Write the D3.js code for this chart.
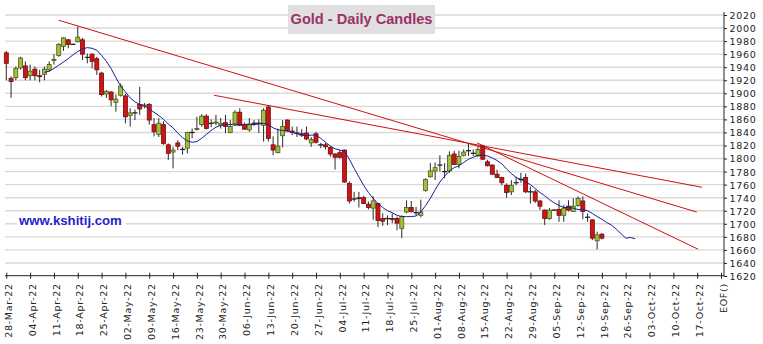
<!DOCTYPE html>
<html><head><meta charset="utf-8">
<script src="https://cdn.jsdelivr.net/npm/d3@7"></script>
<style>
html,body{margin:0;padding:0;background:#fff;}
svg{display:block;}
</style></head>
<body>
<svg id="chart" width="763" height="344"></svg>
<script>
// ---- data ----
const xLabels = ["28-Mar-22","04-Apr-22","11-Apr-22","18-Apr-22","25-Apr-22","02-May-22","09-May-22","16-May-22","23-May-22","30-May-22","06-Jun-22","13-Jun-22","20-Jun-22","27-Jun-22","04-Jul-22","11-Jul-22","18-Jul-22","25-Jul-22","01-Aug-22","08-Aug-22","15-Aug-22","22-Aug-22","29-Aug-22","05-Sep-22","12-Sep-22","19-Sep-22","26-Sep-22","03-Oct-22","10-Oct-22","17-Oct-22","EOF()"];
const yTicks = [1620,1640,1660,1680,1700,1720,1740,1760,1780,1800,1820,1840,1860,1880,1900,1920,1940,1960,1980,2000,2020];

const open  = [1962,1923,1924,1939,1942,1927,1937,1927,1929,1936,1951,1958,1972,1982,1975,1979,1982,1955,1960,1953,1931,1899,1902,1886,1897,1896,1866,1870,1883,1881,1883,1852,1837,1852,1821,1810,1824,1814,1816,1840,1845,1852,1865,1854,1855,1851,1855,1840,1851,1871,1852,1844,1854,1854,1851,1879,1821,1809,1835,1859,1842,1839,1838,1839,1824,1838,1821,1821,1817,1807,1809,1813,1762,1738,1740,1740,1730,1724,1731,1708,1708,1708,1708,1693,1718,1725,1717,1713,1751,1772,1781,1790,1780,1781,1807,1791,1805,1812,1808,1804,1819,1795,1790,1776,1771,1759,1749,1763,1768,1771,1749,1749,1735,1721,1708,1721,1722,1713,1727,1719,1728,1735,1710,1706,1674,1684];
const high  = [1965,1926,1941,1956,1949,1944,1941,1936,1941,1949,1960,1977,1986,1983,1976,2002,1985,1961,1961,1956,1933,1905,1903,1898,1915,1899,1877,1875,1910,1885,1885,1862,1862,1857,1823,1818,1828,1818,1841,1846,1864,1868,1868,1860,1867,1862,1867,1859,1874,1877,1855,1862,1859,1860,1877,1882,1834,1846,1859,1860,1849,1849,1845,1849,1833,1841,1824,1824,1819,1808,1813,1814,1765,1749,1749,1743,1734,1742,1732,1716,1713,1716,1711,1713,1736,1735,1726,1737,1770,1793,1794,1805,1793,1811,1812,1812,1814,1823,1814,1818,1821,1798,1791,1783,1772,1762,1767,1772,1778,1777,1757,1752,1736,1722,1724,1722,1736,1729,1736,1739,1742,1742,1716,1707,1688,1686];
const low   = [1920,1893,1920,1936,1920,1920,1920,1917,1920,1933,1944,1956,1965,1969,1974,1978,1951,1946,1938,1928,1895,1893,1880,1872,1895,1854,1849,1859,1867,1877,1852,1834,1833,1821,1798,1785,1813,1806,1808,1831,1843,1849,1845,1848,1851,1846,1839,1839,1850,1850,1844,1841,1850,1839,1826,1826,1805,1808,1817,1841,1836,1833,1833,1828,1818,1823,1816,1814,1803,1783,1800,1763,1731,1734,1725,1730,1722,1706,1695,1697,1698,1701,1690,1678,1716,1717,1713,1710,1749,1771,1767,1780,1770,1778,1790,1785,1803,1804,1804,1803,1798,1788,1775,1770,1759,1740,1744,1759,1763,1747,1731,1732,1721,1698,1706,1720,1703,1703,1719,1719,1726,1707,1703,1675,1661,1676];
const close = [1946,1918,1938,1954,1924,1934,1927,1926,1937,1944,1952,1975,1985,1975,1975,1986,1960,1955,1949,1936,1898,1903,1890,1891,1911,1864,1870,1870,1876,1882,1859,1841,1854,1823,1808,1813,1819,1814,1840,1840,1846,1865,1846,1854,1856,1854,1849,1849,1871,1851,1845,1853,1854,1854,1874,1831,1813,1819,1849,1843,1841,1839,1836,1830,1829,1825,1821,1818,1807,1802,1802,1764,1735,1738,1739,1731,1725,1735,1705,1704,1708,1707,1701,1711,1725,1719,1717,1718,1768,1781,1786,1790,1780,1805,1791,1803,1810,1812,1808,1814,1799,1789,1776,1771,1763,1748,1759,1763,1768,1749,1749,1735,1727,1708,1721,1721,1713,1724,1721,1727,1739,1719,1710,1678,1683,1678];

// blue moving-average line; first value sits at day index maStart
const maStart = 8;
const maValues = [1932,1934,1938,1943,1948,1953,1959,1964,1968,1970,1969,1966,1958,1949,1938,1924,1911,1902,1893,1887,1883,1881,1876,1871,1866,1860,1853,1847,1839,1832,1827,1825,1826,1831,1837,1843,1848,1851,1852,1852,1853,1852,1852,1852,1852,1853,1854,1852,1847,1844,1843,1842,1840,1838,1836,1835,1836,1836,1831,1825,1819,1815,1813,1811,1799,1785,1772,1759,1748,1739,1731,1725,1720,1717,1713,1711,1711,1711,1712,1718,1728,1739,1752,1764,1773,1781,1786,1789,1794,1799,1802,1805,1805,1804,1801,1797,1792,1784,1777,1771,1768,1764,1760,1754,1748,1743,1737,1732,1728,1725,1725,1724,1722,1722,1720,1716,1711,1707,1702,1698,1692,1685,1678,1679,1677];

// red trend lines: start index, start price, end index, end price
const trendStartIdx   = [11.0, 43.6, 98.8];
const trendStartPrice = [2012, 1897, 1824];
const trendEndIdx     = [144.9, 146.0, 145.2];
const trendEndPrice   = [1718, 1756, 1661];

// ---- drawing ----
const svg = d3.select("#chart");
const x = d3.scaleLinear().domain([0, 150]).range([6.3, 721]);
const y = d3.scaleLinear().domain([1620, 2020]).range([276, 15]);
const axisX = 724;

// grid
svg.append("g").selectAll("line").data(yTicks.slice(1)).join("line")
  .attr("x1", 5).attr("x2", axisX)
  .attr("y1", d => y(d)).attr("y2", d => y(d))
  .attr("stroke", "#d9d9d9").attr("stroke-width", 1.4);

// title
svg.append("rect").attr("x", 288).attr("y", 5).attr("width", 147).attr("height", 29).attr("fill", "#e1dfe1");
svg.append("text").attr("x", 361.5).attr("y", 24).attr("text-anchor", "middle")
  .attr("font-family", "Liberation Sans, Arial, sans-serif").attr("font-weight", "bold")
  .attr("font-size", "14.6px").attr("fill", "#993366").text("Gold - Daily Candles");

// website label
svg.append("rect").attr("x", 17).attr("y", 212).attr("width", 109).attr("height", 17).attr("fill", "#fff");
svg.append("text").attr("x", 19).attr("y", 224.7)
  .attr("font-family", "Liberation Sans, Arial, sans-serif").attr("font-weight", "bold")
  .attr("font-size", "13.2px").attr("fill", "#2323c8").text("www.kshitij.com");

// trend lines
const trends = trendStartIdx.map((s, k) => ({s, sp: trendStartPrice[k], e: trendEndIdx[k], ep: trendEndPrice[k]}));
svg.append("g").selectAll("line").data(trends).join("line")
  .attr("x1", d => x(d.s)).attr("y1", d => y(d.sp))
  .attr("x2", d => x(d.e)).attr("y2", d => y(d.ep))
  .attr("stroke", "#d01010").attr("stroke-width", 1);

// candles
const candles = open.map((o, i) => ({i, o, h: high[i], l: low[i], c: close[i]}));
const cg = svg.append("g");
cg.selectAll("line.wick").data(candles).join("line").attr("class", "wick")
  .attr("x1", d => x(d.i)).attr("x2", d => x(d.i))
  .attr("y1", d => y(d.h)).attr("y2", d => y(d.l))
  .attr("stroke", "#2a2a2a").attr("stroke-width", 1);
cg.selectAll("rect").data(candles.filter(d => d.o !== d.c)).join("rect")
  .attr("x", d => x(d.i) - 2).attr("width", 4)
  .attr("y", d => y(Math.max(d.o, d.c)))
  .attr("height", d => Math.max(1, Math.abs(y(d.o) - y(d.c))))
  .attr("fill", d => d.c > d.o ? "#9fc23a" : "#d31313")
  .attr("stroke", d => d.c > d.o ? "#4a5a18" : "#6a1010").attr("stroke-width", 0.8);
cg.selectAll("line.doji").data(candles.filter(d => d.o === d.c)).join("line").attr("class", "doji")
  .attr("x1", d => x(d.i) - 2.5).attr("x2", d => x(d.i) + 2.5)
  .attr("y1", d => y(d.o)).attr("y2", d => y(d.o))
  .attr("stroke", "#222").attr("stroke-width", 1.3);

// moving average
const ma = maValues.map((v, k) => ({i: maStart + k, v}));
svg.append("path").datum(ma)
  .attr("d", d3.line().x(d => x(d.i)).y(d => y(d.v)))
  .attr("fill", "none").attr("stroke", "#1c1c9a").attr("stroke-width", 1);

// axes
const fontFam = "DejaVu Sans, Verdana, sans-serif";
const yAxis = svg.append("g").attr("transform", `translate(${axisX},0)`)
  .call(d3.axisRight(y).tickValues(yTicks).tickSize(3).tickSizeOuter(0).tickFormat(d3.format("d")));
yAxis.select(".domain").remove();
yAxis.selectAll("line").attr("stroke", "#222");
yAxis.selectAll("text").attr("x", 5.5).attr("dy", null).attr("y", 3.4)
  .attr("font-family", fontFam).attr("font-size", "9.5px").attr("letter-spacing", "0.7px").attr("fill", "#222");
svg.append("line").attr("x1", axisX).attr("x2", axisX).attr("y1", 12).attr("y2", 276.5).attr("stroke", "#222");

const xTickIdx = d3.range(0, 151, 5);
const xAxis = svg.append("g").attr("transform", "translate(0,275.7)")
  .call(d3.axisBottom(x).tickValues(xTickIdx).tickSize(3).tickSizeOuter(0).tickFormat((d, k) => xLabels[k]));
xAxis.select(".domain").remove();
xAxis.selectAll(".tick line").attr("y1", -3).attr("y2", 3).attr("stroke", "#222");
xAxis.selectAll(".tick text")
  .attr("text-anchor", "end").attr("dy", null).attr("y", 0)
  .attr("transform", "translate(5.2,7.5) rotate(-90)")
  .attr("font-family", fontFam).attr("font-size", "9.5px").attr("letter-spacing", "0.7px").attr("fill", "#222");
svg.append("line").attr("x1", 5).attr("x2", axisX).attr("y1", 275.7).attr("y2", 275.7).attr("stroke", "#222");
</script>
</body></html>
